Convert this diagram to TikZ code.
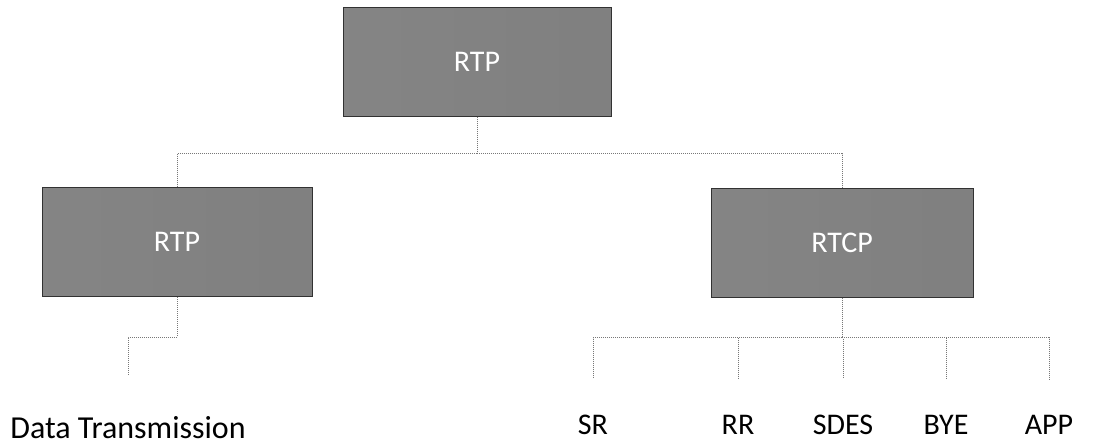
\documentclass[tikz,border=0pt]{standalone}
\usepackage{fontspec}
\setmainfont{Carlito}
\usetikzlibrary{positioning}
\definecolor{linkgray}{RGB}{120, 120, 120}
\definecolor{edgegray}{RGB}{50, 50, 50}

\begin{document}
\begin{tikzpicture}[
        x=1pt, y=-1pt,
        proto/.style={draw=edgegray, line width=1pt, minimum width=268pt, minimum height=109pt, left color=black!48, middle color=black!64, right color=black!50, text=white, font=\fontsize{30}{36}\selectfont},
        leaf/.style={inner sep=0pt, anchor=base, font=\fontsize{30}{36}\selectfont},
        link/.style={draw=linkgray, line width=1pt, densely dotted}
    ]
        \useasboundingbox (0,0) rectangle (1099,445);

        \node[proto] (top) at (477,61.5) {RTP};
        \node[proto, minimum width=270pt] (rtp) at (177,242) {RTP};
        \node[proto, minimum width=262pt] (rtcp) at (842,242.5) {RTCP};

        \node[leaf, font=\fontsize{32}{38}\selectfont] (data) at (128,438) {Data Transmission};
        \node[leaf] (sr) at (593,434) {SR};
        \node[leaf] (rr) at (738,434) {RR};
        \node[leaf] (sdes) at (843,434) {SDES};
        \node[leaf] (bye) at (946,434) {BYE};
        \node[leaf] (app) at (1049,434) {APP};

        % tree links
        \draw[link] (top.south) -- ++(0,37) coordinate (fork);
        \draw[link] (fork) -| (rtp.north);
        \draw[link] (fork) -| (rtcp.north);
        \draw[link, shorten >=40pt] (rtp.south) -- ++(0,40) -| (data.north);
        \draw[link] (rtcp.south) -- ++(0,40) coordinate (hub);
        \foreach \leafname in {sr, rr, sdes, bye, app}
            \draw[link, shorten >=36pt] (hub) -| (\leafname.north);
    \end{tikzpicture}
\end{document}
